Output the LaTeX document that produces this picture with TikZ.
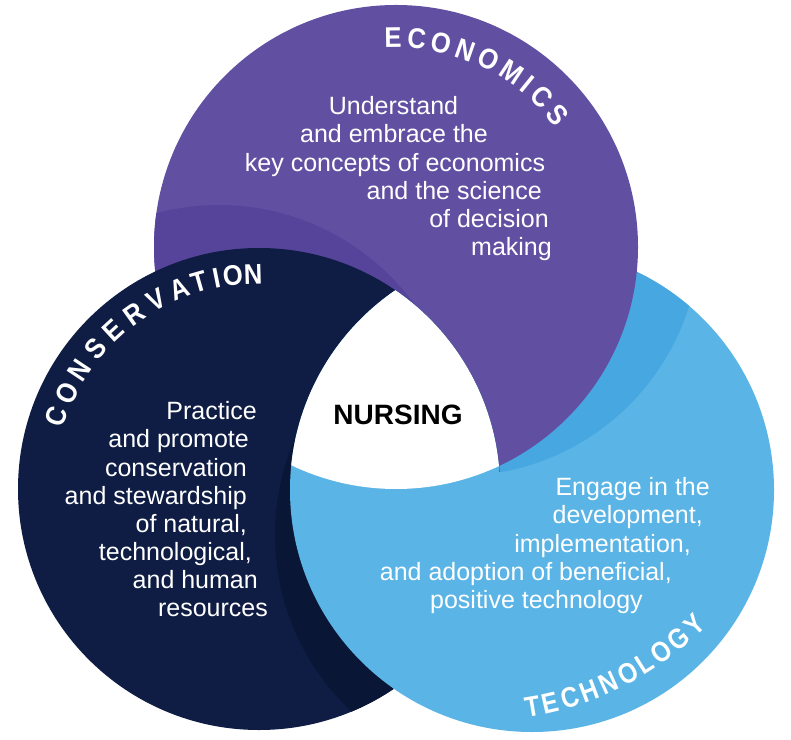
\documentclass[tikz,border=0pt]{standalone}
\usepackage{fontspec}
\usepackage{graphicx}
\setmainfont{Liberation Sans}
\usetikzlibrary{calc}
\definecolor{purp}{HTML}{6150A2}
\definecolor{purpdark}{HTML}{55449A}
\definecolor{navy}{HTML}{0F1D45}
\definecolor{navydark}{HTML}{0A1636}
\definecolor{sky}{HTML}{5AB4E5}
\definecolor{skydark}{HTML}{47A7E0}
\newcommand{\narrowch}[1]{\scalebox{0.86}[1]{#1}}
\newcommand{\semich}[1]{\scalebox{0.9}[1]{#1}}
\begin{document}
\begin{tikzpicture}[x=1pt,y=1pt,
  body/.style={text=white, inner sep=0pt, font=\fontsize{25}{28}\selectfont},
  lab/.style={text=white, inner sep=0pt, font=\fontsize{28.5}{28.5}\selectfont\bfseries},
  hub/.style={text=black, inner sep=0pt, font=\fontsize{28}{28}\selectfont\bfseries}]
\useasboundingbox[fill=white] (0,0) rectangle (791,739);
\coordinate (P) at (396,492);
\coordinate (N) at (259,250);
\coordinate (B) at (532,249);
\coordinate (Psh) at (458,505);
\coordinate (Nsh) at (219,292);
\coordinate (Bsh) at (517,204);
\coordinate (Tarc) at (481,334);
% technology disc with the shadow of economics
\fill[sky] (B) circle (242);
\begin{scope}
  \clip (B) circle (242);
  \fill[skydark] (Psh) circle (242);
\end{scope}
% economics disc with the shadow of conservation
\fill[purp] (P) circle (242);
\begin{scope}
  \clip (P) circle (242);
  \fill[purpdark] (Nsh) circle (242);
\end{scope}
% conservation disc
\fill[navy] (N) circle (241);
% technology over conservation, with its shadow
\begin{scope}
  \clip (N) circle (241);
  \fill[navydark] (Bsh) circle (242);
  \fill[sky] (B) circle (242);
\end{scope}
\begin{scope}
  \clip (B) circle (242);
  \draw[sky, line width=1.8pt] ($(N)+(4:241)$) arc[start angle=4, end angle=-62, radius=241];
\end{scope}
% centre
\begin{scope}
  \clip (P) circle (242);
  \clip (N) circle (241);
  \fill[white] (B) circle (242);
\end{scope}
% curved labels
\foreach \ch/\a [count=\i] in {E/90.8,C/84.3,O/77.5,N/70.6,O/63.75,M/56.5,I/51,C/45.75,S/39.3}
  \node[lab, rotate=\a-90] (eco\i) at ($(P)+(\a:209)$) {\semich{\ch}};
\foreach \ch/\a [count=\i] in {C/160.4,O/153.4,N/146.4,S/139.4,E/132.6,R/125.6,V/118.4,A/111.7,T/106,I/101.4,O/97,N/91.6}
  \node[lab, rotate=\a-90] (con\i) at ($(N)+(\a:215)$) {\semich{\ch}};
\foreach \ch/\a [count=\i] in {T/-80.35,E/-76.85,C/-73.1,H/-69.22,N/-65.35,O/-61.35,L/-57.6,O/-53.85,G/-49.73,Y/-45.85}
  \node[lab, rotate=\a+90] (tec\i) at ($(Tarc)+(\a:306)$) {\narrowch{\ch}};
% centre label
\node[hub] (hub) at (398,324) {NURSING};
% economics text
\node[body, anchor=base] (e1) at (393.5,624) {Understand};
\node[body, anchor=base] (e2) at (394,596) {and embrace the};
\node[body, anchor=base] (e3) at (395,567) {key concepts of economics};
\node[body, anchor=base east] (e4) at (542,539) {and the science};
\node[body, anchor=base east] (e5) at (549,511) {of decision};
\node[body, anchor=base east] (e6) at (552,483) {making};
% conservation text
\node[body, anchor=base east] (c1) at (257,319) {Practice};
\node[body, anchor=base east] (c2) at (249,291) {and promote};
\node[body, anchor=base east] (c3) at (247,263) {conservation};
\node[body, anchor=base east] (c4) at (247,235) {and stewardship};
\node[body, anchor=base east] (c5) at (247,207) {of natural,};
\node[body, anchor=base east] (c6) at (252,179) {technological,};
\node[body, anchor=base east] (c7) at (258,151) {and human};
\node[body, anchor=base east] (c8) at (268,123) {resources};
% technology text
\node[body, anchor=base east] (t1) at (710,244) {Engage in the};
\node[body, anchor=base east] (t2) at (703,216) {development,};
\node[body, anchor=base east] (t3) at (691,187) {implementation,};
\node[body, anchor=base east] (t4) at (672,159) {and adoption of beneficial,};
\node[body, anchor=base east] (t5) at (643,131) {positive technology};
\end{tikzpicture}
\end{document}
